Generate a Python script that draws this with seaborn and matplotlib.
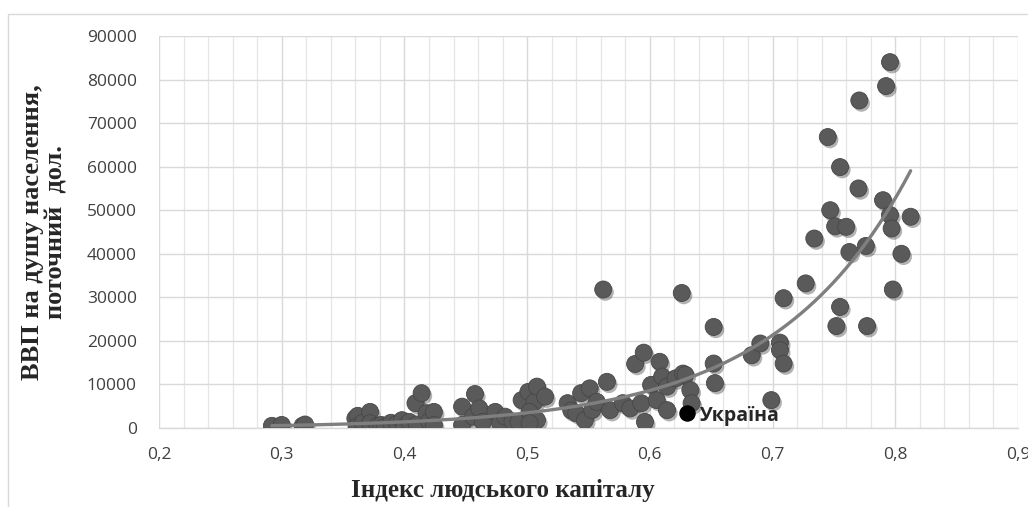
import seaborn as sns
import matplotlib.pyplot as plt
import matplotlib.patheffects as pe
from matplotlib.patches import Rectangle
from matplotlib.ticker import MultipleLocator, FixedLocator
import pandas as pd
import numpy as np

sns.set_style("whitegrid")

# Human capital index vs GDP per capita
hci = [
    0.292, 0.300, 0.317, 0.319,
    0.360, 0.362, 0.361, 0.366, 0.372, 0.372, 0.378, 0.381, 0.384, 0.389,
    0.394, 0.398, 0.400, 0.404, 0.409, 0.414, 0.410, 0.418, 0.420, 0.424, 0.424,
    0.447, 0.447, 0.456, 0.4575, 0.461, 0.464, 0.474, 0.478, 0.482, 0.488,
    0.493, 0.4955, 0.501, 0.506, 0.508, 0.5146, 0.502, 0.508, 0.502,
    0.533, 0.536, 0.540, 0.544, 0.547, 0.551, 0.553, 0.5567, 0.562, 0.565,
    0.5676, 0.578, 0.584, 0.588, 0.593, 0.595, 0.596, 0.601, 0.6056, 0.608,
    0.610, 0.614, 0.614, 0.621, 0.626, 0.627, 0.629, 0.633, 0.634,
    0.652, 0.652, 0.653, 0.683, 0.690, 0.699, 0.706, 0.706, 0.709, 0.709,
    0.727, 0.734, 0.745, 0.747, 0.751, 0.752, 0.755, 0.755, 0.760, 0.7626,
    0.770, 0.7707, 0.776, 0.777, 0.790, 0.7925, 0.7957, 0.7957, 0.797,
    0.798, 0.805, 0.8125,
]
gdp = [
    500, 700, 500, 800,
    2200, 2800, 300, 1200, 3700, 1100, 500, 700, 300, 1200,
    1000, 1800, 400, 1400, 5700, 8000, 800, 3400, 1500, 3700, 700,
    4900, 700, 2600, 7800, 4500, 1400, 3700, 1100, 2600, 1500,
    1400, 6400, 8300, 6000, 9500, 7200, 3700, 1800, 1100,
    5700, 4000, 3400, 8000, 1800, 9100, 4100, 6000, 31800, 10600,
    4100, 5700, 4500, 14700, 5700, 17300, 1400, 9900, 6400, 15200,
    11800, 9500, 4100, 11400, 31000, 12500, 12200, 8700, 5700,
    23200, 14800, 10300, 16700, 19400, 6400, 19600, 17900, 29800, 14800,
    33200, 43500, 66800, 50000, 46300, 23400, 59900, 27800, 46200, 40400,
    55000, 75200, 41800, 23400, 52300, 78500, 84000, 48900, 45800,
    31800, 40000, 48500,
]
ukraine_hci = [0.630]
ukraine_gdp = [3500]
ukraine_label = "Україна"

x_ticks = [0.2, 0.3, 0.4, 0.5, 0.6, 0.7, 0.8, 0.9]
x_labels = ["0,2", "0,3", "0,4", "0,5", "0,6", "0,7", "0,8", "0,9"]
y_ticks = [0, 10000, 20000, 30000, 40000, 50000, 60000, 70000, 80000, 90000]

df = pd.DataFrame({"hci": hci + ukraine_hci, "gdp": gdp + ukraine_gdp})

# exponential trendline (fit on log y, like Excel)
b, ln_a = np.polyfit(df["hci"], np.log(df["gdp"]), 1)
tx = np.linspace(df["hci"].min(), df["hci"].max(), 200)
trend = pd.DataFrame({"hci": tx, "gdp": np.exp(ln_a) * np.exp(b * tx)})

fig = plt.figure(figsize=(10.28, 5.07), dpi=100)
ax = fig.add_axes([159 / 1028, 1 - 428 / 507, (1018 - 159) / 1028, (428 - 36) / 507])

# outer chart border
fig.patches.append(Rectangle((8 / 1028, -0.1), 1.2, 1 - 14 / 507 + 0.1,
                             transform=fig.transFigure, fill=False,
                             edgecolor="#d9d9d9", linewidth=1.0, zorder=0))

sns.scatterplot(data=df.iloc[:len(hci)], x="hci", y="gdp", s=150,
                color="#5a5a5a", edgecolor="#474747", linewidth=0.6,
                ax=ax, zorder=3, legend=False)
ax.collections[-1].set_path_effects([
    pe.SimplePatchShadow(offset=(1.5, -2), shadow_rgbFace="black", alpha=0.3),
    pe.Normal()])

sns.lineplot(data=trend, x="hci", y="gdp", color="#7f7f7f", linewidth=2.4,
             ax=ax, zorder=4)

sns.scatterplot(x=ukraine_hci, y=ukraine_gdp, s=120, color="black",
                edgecolor="black", ax=ax, zorder=5, legend=False)
ax.annotate(ukraine_label, (ukraine_hci[0], ukraine_gdp[0]),
            xytext=(9, -2), textcoords="offset points", va="center", ha="left",
            fontsize=14, fontweight="bold", color="#262626",
            family=["Open Sans", "DejaVu Sans"])

ax.set_xlim(0.2, 0.9)
ax.set_ylim(0, 90000)
ax.xaxis.set_major_locator(FixedLocator(x_ticks))
ax.set_xticklabels(x_labels)
ax.xaxis.set_minor_locator(MultipleLocator(0.02))
ax.set_yticks(y_ticks)
ax.set_yticklabels([str(v) for v in y_ticks])

ax.grid(which="major", axis="both", color="#d9d9d9", linewidth=1.0)
ax.grid(which="minor", axis="x", color="#e6e6e6", linewidth=0.9)
for side in ["top", "right", "left"]:
    ax.spines[side].set_visible(False)
ax.spines["bottom"].set_color("#d9d9d9")
ax.spines["bottom"].set_linewidth(1.0)
ax.tick_params(axis="both", which="both", length=0)
ax.tick_params(axis="x", pad=14)
ax.tick_params(axis="y", pad=16)
for lab in ax.get_xticklabels() + ax.get_yticklabels():
    lab.set_family(["Open Sans", "DejaVu Sans"])
    lab.set_fontsize(12.5)
    lab.set_color("#404040")

ax.set_xlabel("")
ax.set_ylabel("")
fig.text(503 / 1028, 1 - 490 / 507, "Індекс людського капіталу",
         ha="center", va="center", fontsize=18, fontweight="bold",
         family=["Liberation Serif", "DejaVu Serif"], color="#262626")
fig.text(44 / 1028, 1 - 232 / 507, "ВВП на душу населення,\nпоточний  дол.",
         ha="center", va="center", rotation=90, multialignment="center",
         fontsize=19, fontweight="bold", linespacing=1.05,
         family=["Liberation Serif", "DejaVu Serif"], color="#262626")

fig.savefig("out.png", dpi=100)
plt.close(fig)
